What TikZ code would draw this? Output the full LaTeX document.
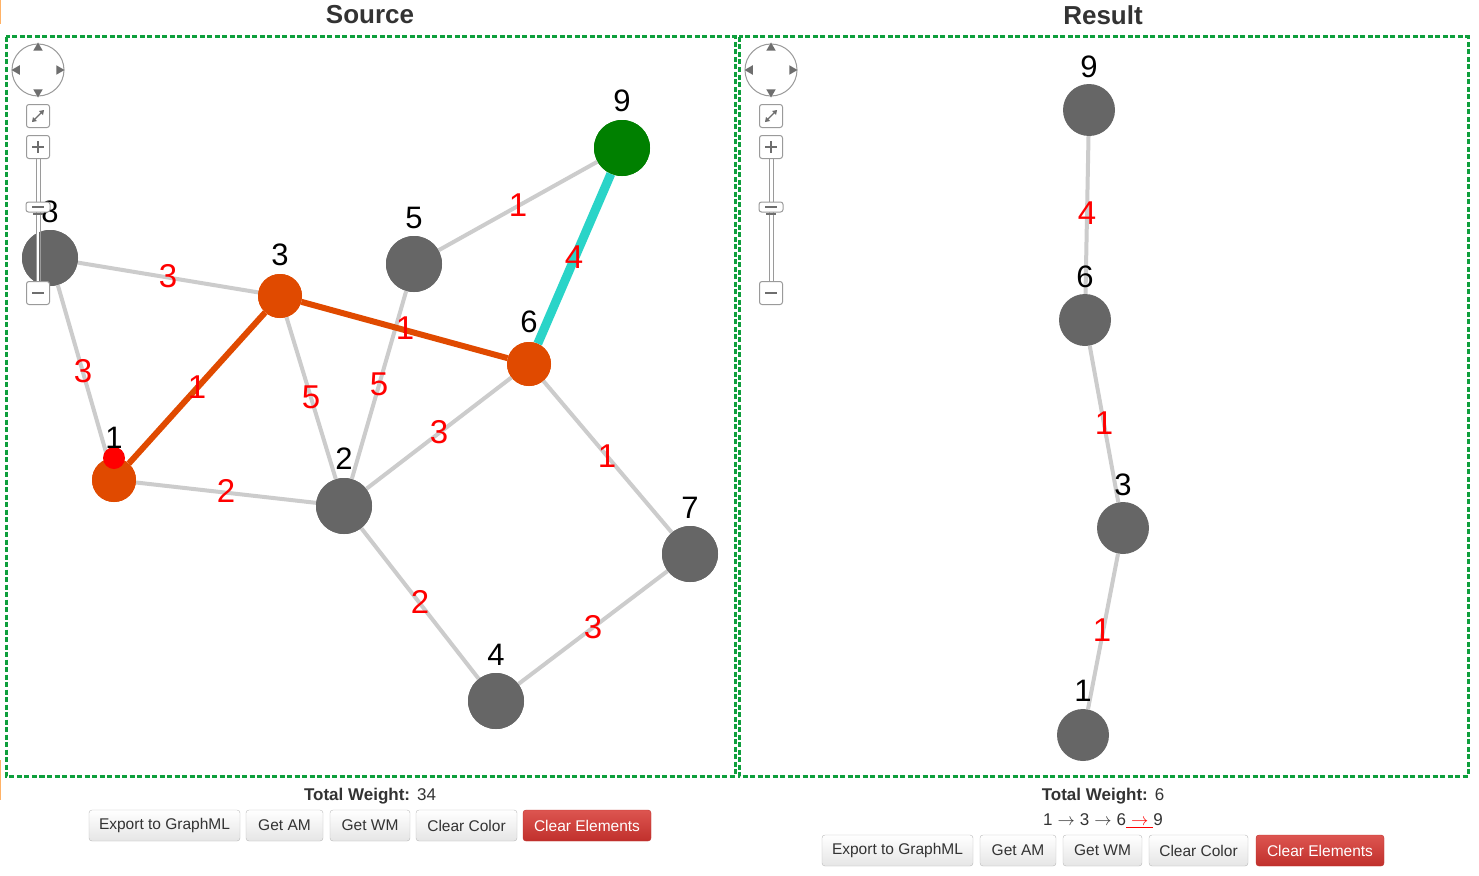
\documentclass[tikz,border=0pt]{standalone}
\usepackage{fontspec}
\setmainfont{Liberation Sans}
\usetikzlibrary{shapes.geometric}
\definecolor{nodegray}{HTML}{666666}
\definecolor{edgegray}{HTML}{CCCCCC}
\definecolor{pathorange}{HTML}{E04A00}
\definecolor{pathcyan}{HTML}{2AD4C8}
\definecolor{rootgreen}{HTML}{008000}
\definecolor{framegreen}{HTML}{0E9F3C}
\definecolor{txtgray}{HTML}{333333}
\definecolor{btnborder}{HTML}{BBBBBB}
\definecolor{ctrlgray}{HTML}{9A9A9A}
\definecolor{ctrldark}{HTML}{6E6E6E}
\definecolor{redtop}{HTML}{DD5550}
\definecolor{redbot}{HTML}{C0302C}
\tikzset{
  vert/.style={circle, fill=nodegray, minimum size=56pt, inner sep=0pt},
  vsmall/.style={circle, fill=pathorange, minimum size=44pt, inner sep=0pt},
  vroot/.style={circle, fill=rootgreen, minimum size=56pt, inner sep=0pt},
  vlabel/.style={font=\fontsize{31}{31}\selectfont, text=black, inner sep=0pt},
  wlabel/.style={font=\fontsize{33}{33}\selectfont, text=red, inner sep=0pt},
  plain/.style={draw=edgegray, line width=4pt},
  tree/.style={draw=pathorange, line width=6pt},
  hot/.style={draw=pathcyan, line width=9pt},
  frame/.style={draw=framegreen, line width=3pt, dash pattern=on 5pt off 2.5pt},
  title/.style={font=\fontsize{26}{26}\selectfont\bfseries, text=txtgray},
  btn/.style={draw=btnborder, rounded corners=3pt, top color=white, bottom color=black!10,
    minimum height=31pt, inner sep=0pt, font=\fontsize{15.5}{15.5}\selectfont, text=txtgray},
  btnred/.style={draw=redbot, rounded corners=3pt, top color=redtop, bottom color=redbot,
    minimum height=31pt, inner sep=0pt, font=\fontsize{15.5}{15.5}\selectfont, text=white},
  info/.style={font=\fontsize{17}{17}\selectfont, text=txtgray, inner sep=0pt},
  ctrlbox/.style={draw=ctrlgray, rounded corners=2.5pt, fill=white, line width=1pt,
    minimum width=23pt, minimum height=23pt, inner sep=0pt},
  thumb/.style={draw=ctrlgray, rounded corners=2.5pt, fill=white, line width=1pt,
    minimum width=24pt, minimum height=10pt, inner sep=0pt},
  tri/.style={regular polygon, regular polygon sides=3, fill=ctrldark, inner sep=0pt, minimum size=11pt},
}
% arrow glyph used in the shortest-path readout
\newcommand{\steparrow}{\hspace{5pt}$\rightarrow$\hspace{5pt}}
% zoom / pan widget of a graph panel
\newcommand{\panwidget}[1]{%
  \draw[ctrlgray, line width=1pt] (#1,70) circle (26);
  \node[tri, shape border rotate=0] at (#1,48) {};
  \node[tri, shape border rotate=180] at (#1,92) {};
  \node[tri, shape border rotate=90] at (#1-21,70) {};
  \node[tri, shape border rotate=270] at (#1+21,70) {};
  \draw[ctrlgray, line width=1pt] (#1-2,158) -- (#1-2,283) (#1+2,158) -- (#1+2,283);
  \draw[white, line width=2pt] (#1,158) -- (#1,283);
  \node[ctrlbox] at (#1,116) {};
  \draw[ctrldark, line width=1.3pt] (#1-5,121) -- (#1+5,111);
  \fill[ctrldark] (#1+6,110) -- (#1+1,111) -- (#1+5,115) -- cycle;
  \fill[ctrldark] (#1-6,122) -- (#1-1,121) -- (#1-5,117) -- cycle;
  \node[ctrlbox] at (#1,147) {};
  \draw[ctrldark, line width=2.5pt] (#1-6,147) -- (#1+6,147) (#1,141) -- (#1,153);
  \node[thumb] at (#1,207) {};
  \draw[ctrldark, line width=2.5pt] (#1-6,207) -- (#1+6,207);
  \draw[ctrldark, line width=2pt] (#1-5,214) -- (#1+5,214);
  \node[ctrlbox] at (#1,293) {};
  \draw[ctrldark, line width=2.5pt] (#1-6,293) -- (#1+6,293);
}
\begin{document}
\begin{tikzpicture}[x=1pt, y=-1pt]
\useasboundingbox[fill=white] (0,0) rectangle (1479,875);
\draw[orange!60, line width=1.2pt] (0.6,0) -- (0.6,24) (0.6,760) -- (0.6,800);

% panel titles and frames
\node[title] (tsrc) at (370,15) {Source};
\node[title] (tres) at (1103,15) {Result};
\draw[frame] (6,37) rectangle (735,776);
\draw[frame] (739,37) rectangle (1468,776);

% ---------------- source graph ----------------
\node[vert]   (s8) at (50,258) {};
\node[vsmall] (s3) at (280,296) {};
\node[vert]   (s5) at (414,264) {};
\node[vroot]  (s9) at (622,148) {};
\node[vsmall] (s6) at (529,364) {};
\node[vsmall] (s1) at (114,480) {};
\node[vert]   (s2) at (344,506) {};
\node[vert]   (s7) at (690,554) {};
\node[vert]   (s4) at (496,701) {};

% edges drawn beneath the vertices
\path (s8) edge[plain] (s3) (s8) edge[plain] (s1) (s1) edge[plain] (s2)
      (s3) edge[plain] (s2) (s5) edge[plain] (s2) (s5) edge[plain] (s9)
      (s2) edge[plain] (s6) (s6) edge[plain] (s7) (s2) edge[plain] (s4)
      (s4) edge[plain] (s7);
\path (s1) edge[tree] (s3) (s3) edge[tree] (s6);
\path (s9) edge[hot] (s6);

% redraw vertices on top of the edges
\foreach \n/\x/\y/\s in {s8/50/258/vert, s3/280/296/vsmall, s5/414/264/vert,
  s9/622/148/vroot, s6/529/364/vsmall, s1/114/480/vsmall, s2/344/506/vert,
  s7/690/554/vert, s4/496/701/vert}
  \node[\s] at (\x,\y) {};
\node[circle, fill=red, minimum size=22pt, inner sep=0pt] (s1dot) at (114,458) {};

% weights
\node[wlabel] (w83) at (168,276) {3};
\node[wlabel] (w81) at (83,371) {3};
\node[wlabel] (w13) at (197,387) {1};
\node[wlabel] (w12) at (226,491) {2};
\node[wlabel] (w32) at (311,397) {5};
\node[wlabel] (w36) at (405,328) {1};
\node[wlabel] (w52) at (379,384) {5};
\node[wlabel] (w59) at (518,205) {1};
\node[wlabel] (w96) at (574,257) {4};
\node[wlabel] (w26) at (439,432) {3};
\node[wlabel] (w67) at (607,456) {1};
\node[wlabel] (w24) at (420,602) {2};
\node[wlabel] (w47) at (593,627) {3};

% vertex names
\node[vlabel] (l8) at (50,212) {8};
\node[vlabel] (l3) at (280,255) {3};
\node[vlabel] (l5) at (414,218) {5};
\node[vlabel] (l9) at (622,101) {9};
\node[vlabel] (l6) at (529,322) {6};
\node[vlabel] (l1) at (114,438) {1};
\node[vlabel] (l2) at (344,459) {2};
\node[vlabel] (l7) at (690,508) {7};
\node[vlabel] (l4) at (496,655) {4};

\panwidget{38}

% ---------------- result path ----------------
\node[vert, minimum size=52pt] (r9) at (1089,110) {};
\node[vert, minimum size=52pt] (r6) at (1085,320) {};
\node[vert, minimum size=52pt] (r3) at (1123,528) {};
\node[vert, minimum size=52pt] (r1) at (1083,735) {};
\path (r9) edge[plain] (r6) (r6) edge[plain] (r3) (r3) edge[plain] (r1);
\node[wlabel] (rw96) at (1087,213) {4};
\node[wlabel] (rw63) at (1104,423) {1};
\node[wlabel] (rw31) at (1102,630) {1};
\node[vlabel] (rl9) at (1089,67) {9};
\node[vlabel] (rl6) at (1085,277) {6};
\node[vlabel] (rl3) at (1123,485) {3};
\node[vlabel] (rl1) at (1083,691) {1};

\panwidget{771}

% ---------------- footer, source ----------------
\node[info] (tw1) at (370,796) {\textbf{Total Weight:}\hspace{7pt}34};
\node[btn, minimum width=151pt] (b1) at (164.5,825.5) {Export to GraphML};
\node[btn, minimum width=77pt]  (b2) at (284.5,825.5) {Get AM};
\node[btn, minimum width=80pt]  (b3) at (370,825.5) {Get WM};
\node[btn, minimum width=101pt] (b4) at (466.5,825.5) {Clear Color};
\node[btnred, minimum width=128pt] (b5) at (587,825.5) {Clear Elements};

% ---------------- footer, result ----------------
\node[info] (tw2) at (1103,796) {\textbf{Total Weight:}\hspace{7pt}6};
\node[info] (rp) at (1103,821) {1\steparrow 3\steparrow 6\textcolor{red}{\underline{\steparrow}}9};
\node[btn, minimum width=151pt] (c1) at (897.5,850.5) {Export to GraphML};
\node[btn, minimum width=76pt]  (c2) at (1018,850.5) {Get AM};
\node[btn, minimum width=79pt]  (c3) at (1102.5,850.5) {Get WM};
\node[btn, minimum width=99pt]  (c4) at (1198.5,850.5) {Clear Color};
\node[btnred, minimum width=128pt] (c5) at (1320,850.5) {Clear Elements};
\end{tikzpicture}
\end{document}
